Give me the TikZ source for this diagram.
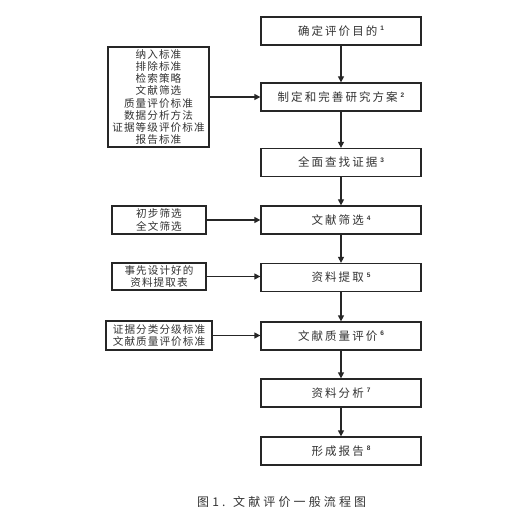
\documentclass[tikz,border=0pt]{standalone}
\usepackage{fontspec}
\usetikzlibrary{arrows.meta}
\newfontfamily\cjkR{Noto Sans CJK SC}[LetterSpace=18]
\newfontfamily\cjkL{Noto Sans CJK SC}[LetterSpace=10]
\newfontfamily\cjkC{Noto Sans CJK SC}[LetterSpace=26]
\newfontfamily\supf{Liberation Sans}
\newcommand{\sn}[1]{\hspace{3pt}\raisebox{0.38em}{\supf\bfseries\fontsize{6.5}{7}\selectfont #1}}
\begin{document}
\begin{tikzpicture}[x=1pt,y=-1pt,
  mainbox/.style={draw=black!85,line width=1.3pt,minimum width=160pt,minimum height=28pt,inner sep=0pt,
    font=\cjkR\fontsize{11.5}{13}\selectfont,text=black!80},
  sidebox/.style={draw=black!85,line width=1.3pt,inner sep=0pt,align=center,
    font=\cjkL\fontsize{10.6}{12.2}\selectfont,text=black!80},
  flow/.style={draw=black!85,line width=1.3pt,-{Triangle[length=6pt,width=6pt]}}]
\useasboundingbox (0,0) rectangle (515,529);
\fill[white] (0,0) rectangle (515,529);
\node[mainbox] (b1) at (341,31) {确定评价目的\sn{1}};
\node[mainbox] (b2) at (341,97) {制定和完善研究方案\sn{2}};
\node[mainbox] (b3) at (341,162.5) {全面查找证据\sn{3}};
\node[mainbox] (b4) at (341,220) {文献筛选\sn{4}};
\node[mainbox] (b5) at (341,277.5) {资料提取\sn{5}};
\node[mainbox] (b6) at (341,336) {文献质量评价\sn{6}};
\node[mainbox] (b7) at (341,393) {资料分析\sn{7}};
\node[mainbox] (b8) at (341,451) {形成报告\sn{8}};
\node[sidebox,minimum width=101pt,minimum height=100pt] (l1) at (158.5,97)
  {纳入标准\\排除标准\\检索策略\\文献筛选\\质量评价标准\\数据分析方法\\证据等级评价标准\\报告标准};
\node[sidebox,minimum width=94pt,minimum height=28pt] (l2) at (159,220) {初步筛选\\全文筛选};
\node[sidebox,minimum width=94pt,minimum height=27pt] (l3) at (159,276.5) {事先设计好的\\资料提取表};
\node[sidebox,minimum width=106pt,minimum height=29pt] (l4) at (159,335.5) {证据分类分级标准\\文献质量评价标准};
\foreach \a/\b in {b1/b2,b2/b3,b3/b4,b4/b5,b5/b6,b6/b7,b7/b8} \draw[flow] (\a) -- (\b);
\draw[flow] (l1.east) -- (l1.east -| b2.west);
\draw[flow] (l2) -- (b4);
\draw[flow] (l3.east) -- (l3.east -| b5.west);
\draw[flow] (l4.east) -- (l4.east -| b6.west);
\node[anchor=west,inner sep=0pt,font=\cjkC\fontsize{12}{14}\selectfont,text=black!80] (cap) at (197,502) {图1. 文献评价一般流程图};
\end{tikzpicture}
\end{document}
